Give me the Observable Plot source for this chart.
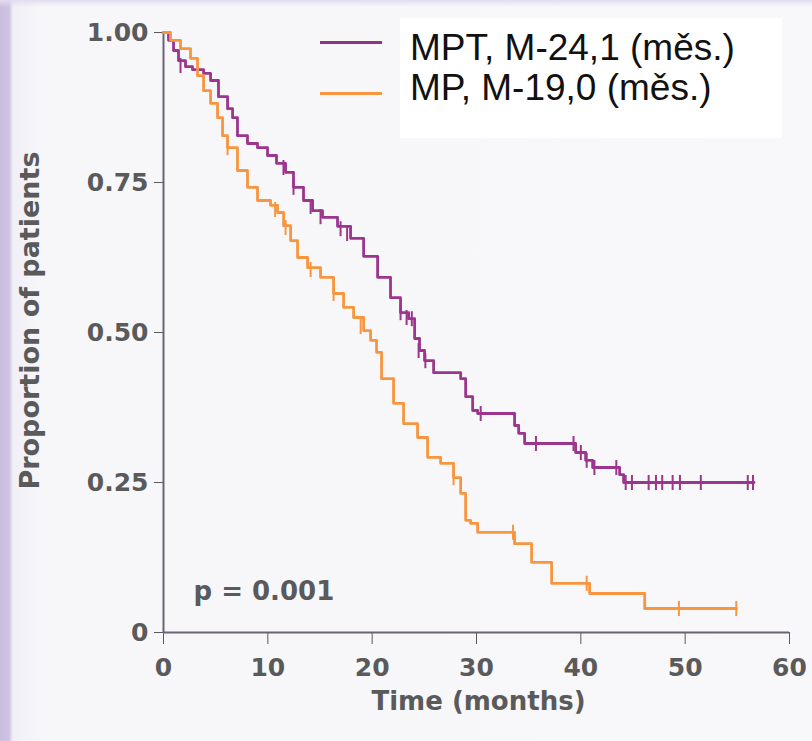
<!DOCTYPE html>
<html>
<head>
<meta charset="utf-8">
<script src="https://cdn.jsdelivr.net/npm/d3@7"></script>
<script src="https://cdn.jsdelivr.net/npm/@observablehq/plot@0.6"></script>
<style>
  html, body { margin: 0; padding: 0; }
  body {
    width: 812px; height: 741px; overflow: hidden;
    background:
      linear-gradient(to bottom, #e2dcef 0px, rgba(247,247,250,0) 7px),
      linear-gradient(to right, #c9bde0 0px, #cfc4e4 9px, #f1eff7 13px, #f7f7fa 40px, #f8f8fb 100%);
  }
  #wrap { position: relative; width: 812px; height: 741px; }
  #legendBox {
    position: absolute; left: 400px; top: 18px; width: 382px; height: 120px;
    background: #ffffff; box-sizing: border-box; padding: 10px 0 0 10px;
    font-family: Arial, "Liberation Sans", sans-serif; font-size: 37px; line-height: 40px; color: #111;
    white-space: nowrap;
  }
  .sw { position: absolute; left: 320px; width: 62px; height: 3px; }
</style>
</head>
<body>
<div id="wrap">
  <div id="chart"></div>
  <div class="sw" id="swMPT" style="top:41px"></div>
  <div class="sw" id="swMP" style="top:92px"></div>
  <div id="legendBox"><div id="lg1"></div><div id="lg2"></div></div>
</div>
<script>
// ---- data ----
const seriesNames = ["MPT, M-24,1 (měs.)", "MP, M-19,0 (měs.)"];
const seriesColors = ["#9c358d", "#f7963f"];

const mptTime = [0, 0.48, 0.96, 1.44, 2.11, 2.78, 3.84, 4.51, 5.27, 6.14, 6.62, 7.09, 8.05, 9.01, 9.97, 10.83, 11.70, 12.46, 13.42, 14.29, 15.24, 16.68, 17.93, 19.18, 20.52, 21.76, 22.72, 23.49, 24.07, 24.54, 25.02, 25.89, 28.48, 28.96, 29.63, 30.11, 33.65, 34.04, 34.61, 39.50, 40.46, 41.13, 43.72, 44.10, 56.6];
const mptSurv = [1.000, 0.987, 0.970, 0.953, 0.943, 0.938, 0.932, 0.920, 0.893, 0.873, 0.858, 0.828, 0.815, 0.808, 0.795, 0.782, 0.767, 0.742, 0.720, 0.703, 0.692, 0.677, 0.657, 0.627, 0.592, 0.558, 0.533, 0.523, 0.490, 0.470, 0.453, 0.433, 0.423, 0.393, 0.370, 0.365, 0.345, 0.332, 0.315, 0.300, 0.287, 0.275, 0.263, 0.250, 0.250];

const mpTime = [0, 0.67, 1.63, 2.59, 3.26, 3.84, 4.51, 5.18, 5.66, 6.14, 7.09, 8.05, 9.01, 10.26, 10.93, 11.51, 12.18, 12.85, 13.81, 15.05, 16.30, 17.26, 18.22, 19.18, 19.85, 20.42, 20.90, 22.05, 23.01, 24.35, 25.31, 26.56, 27.80, 28.48, 28.96, 29.43, 30.11, 33.65, 35.28, 37.20, 40.84, 46.12, 54.9];
const mpSurv = [1.000, 0.987, 0.973, 0.957, 0.928, 0.903, 0.882, 0.858, 0.828, 0.808, 0.770, 0.742, 0.720, 0.712, 0.700, 0.678, 0.653, 0.625, 0.608, 0.592, 0.565, 0.542, 0.525, 0.503, 0.487, 0.467, 0.423, 0.382, 0.348, 0.325, 0.292, 0.282, 0.258, 0.232, 0.187, 0.182, 0.167, 0.148, 0.117, 0.082, 0.065, 0.040, 0.040];

const mptCensorTime = [1.63, 11.5, 12.46, 14.1, 15.05, 16.97, 17.6, 22.72, 23.3, 23.8, 24.45, 25.1, 30.4, 35.7, 39.3, 40.0, 40.56, 41.3, 43.4, 44.3, 44.9, 46.5, 47.2, 47.8, 48.8, 49.5, 51.5, 56.0, 56.5];
const mptCensorSurv = [0.945, 0.775, 0.742, 0.710, 0.693, 0.673, 0.665, 0.533, 0.525, 0.523, 0.470, 0.453, 0.365, 0.315, 0.315, 0.300, 0.287, 0.275, 0.275, 0.250, 0.250, 0.250, 0.250, 0.250, 0.250, 0.250, 0.250, 0.250, 0.250];

const mpCensorTime = [6.14, 10.7, 11.7, 14.1, 16.3, 18.9, 27.8, 33.5, 40.56, 49.4, 54.9];
const mpCensorSurv = [0.808, 0.705, 0.675, 0.605, 0.565, 0.510, 0.258, 0.167, 0.082, 0.040, 0.040];

const xTicks = [0, 10, 20, 30, 40, 50, 60];
const yTicks = [0, 0.25, 0.50, 0.75, 1.00];
const yTickLabels = ["0", "0.25", "0.50", "0.75", "1.00"];
const xTitle = "Time (months)";
const yTitle = "Proportion of patients";
const pText = "p = 0.001";

// ---- build tables ----
const curve = (ts, ss, g) => ts.map((t, i) => ({t, s: ss[i], g}));
const lines = [...curve(mptTime, mptSurv, seriesNames[0]), ...curve(mpTime, mpSurv, seriesNames[1])];
const censors = [...curve(mptCensorTime, mptCensorSurv, seriesNames[0]), ...curve(mpCensorTime, mpCensorSurv, seriesNames[1])];

const tickSymbol = {
  draw(ctx, size) {
    const h = Math.sqrt(size / Math.PI);
    ctx.moveTo(0, -h);
    ctx.lineTo(0, h);
  }
};

const axisColor = "#6c6474";
const textColor = "#5a5a5a";

const chart = Plot.plot({
  width: 812,
  height: 741,
  marginLeft: 163,
  marginRight: 23,
  marginTop: 32,
  marginBottom: 109,
  style: {background: "transparent", fontFamily: "'DejaVu Sans', sans-serif", fontSize: "25px", fontWeight: "bold", color: textColor},
  x: {domain: [0, 60], ticks: xTicks, tickSize: 12, tickPadding: 14, label: null},
  y: {domain: [0, 1], ticks: yTicks, tickSize: 9, tickPadding: 6, label: null,
      tickFormat: d => yTickLabels[yTicks.indexOf(d)]},
  color: {domain: seriesNames, range: seriesColors},
  marks: [
    Plot.ruleX([0], {stroke: axisColor, strokeWidth: 2}),
    Plot.ruleY([0], {stroke: axisColor, strokeWidth: 2}),
    Plot.line(lines, {x: "t", y: "s", z: "g", stroke: "g", curve: "step-after", strokeWidth: 2.8}),
    Plot.dot(censors, {x: "t", y: "s", stroke: "g", symbol: tickSymbol, r: 7.5, strokeWidth: 2, fill: "none"}),
    Plot.text([yTitle], {frameAnchor: "left", textAnchor: "middle", rotate: -90, dx: -133, dy: -12, fontSize: 27, fontWeight: "bold", fill: textColor}),
    Plot.text([xTitle], {frameAnchor: "bottom", textAnchor: "middle", dx: 2, dy: 77, fontSize: 26, fontWeight: "bold", fill: textColor}),
    Plot.text([pText], {frameAnchor: "bottom-left", textAnchor: "start", lineAnchor: "bottom", dx: 30, dy: -33, fontSize: 26, fontWeight: "bold", fill: textColor})
  ]
});
document.getElementById("chart").appendChild(chart);

document.getElementById("lg1").textContent = seriesNames[0];
document.getElementById("lg2").textContent = seriesNames[1];
document.getElementById("swMPT").style.background = "#8f3384";
document.getElementById("swMP").style.background = seriesColors[1];
</script>
</body>
</html>
